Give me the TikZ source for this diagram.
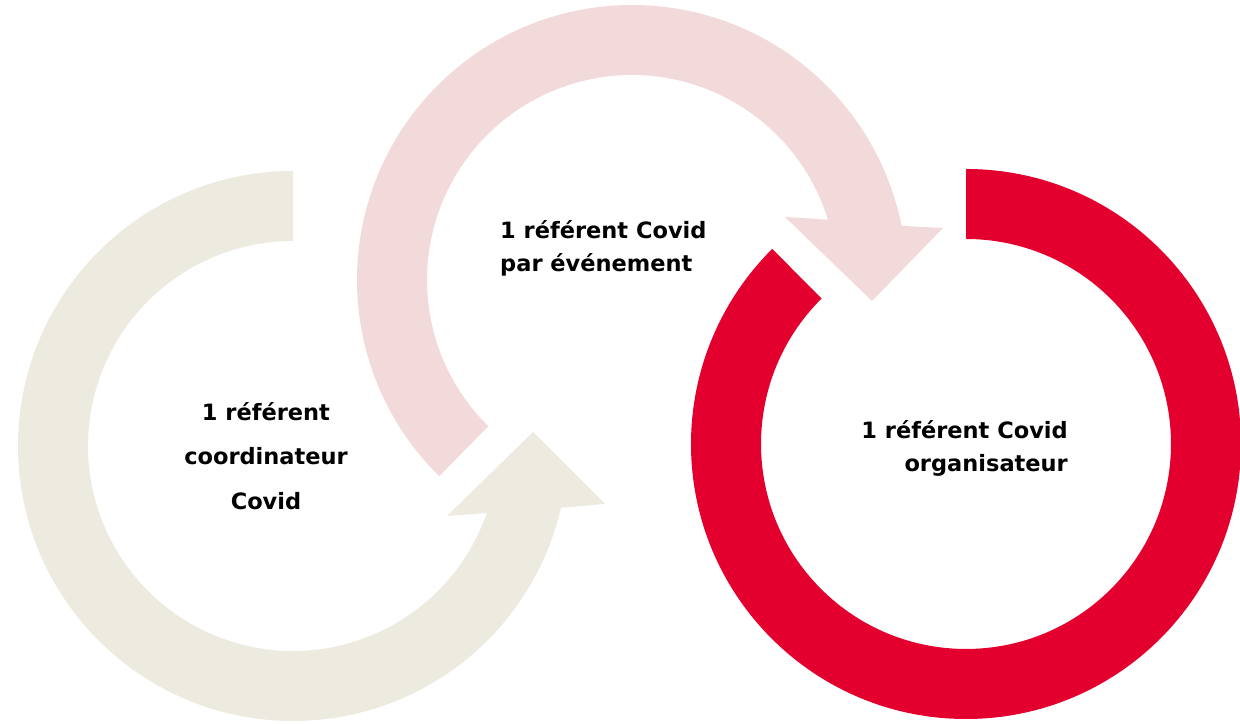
\documentclass[tikz,border=0pt]{standalone}
\usepackage{fontspec}
\setmainfont{DejaVu Sans}
\definecolor{beige}{RGB}{237,235,224}
\definecolor{rose}{RGB}{242,218,219}
\definecolor{rouge}{RGB}{228,0,46}

\begin{document}
\begin{tikzpicture}[x=1pt,y=1pt,
        texte/.style={font=\bfseries\fontsize{22.5}{33}\selectfont, inner sep=0pt}]
        \useasboundingbox (0,0) rectangle (1240,725);
        \fill[beige, shift={(293,279)}] (90:275) arc (90:347:275) -- (312,-58) -- (240,14) -- (154,-70) -- (340.9:205) arc (340.9:90:205) -- cycle;
        \fill[rose, shift={(632,445)}] (225.5:205) -- (225.5:275) arc (225.5:11.35:275) -- (311,52) -- (240,-21) -- (153,63) -- (17.1:205) arc (17.1:225.5:205) -- cycle;
        \fill[rouge, shift={(966,281)}] (90:275) arc (90:-225.2:275) -- (-225.2:205) arc (-225.2:90:205) -- cycle;
        \node[texte, align=center, font=\bfseries\fontsize{22.5}{44.5}\selectfont] (coordinateur) at (266,269) {1 référent\\coordinateur\\Covid};
        \node[texte, align=left, anchor=west] (evenement) at (500,477) {1 référent Covid\\par événement};
        \node[texte, align=right, anchor=east] (organisateur) at (1068,277) {1 référent Covid\\organisateur};
    \end{tikzpicture}
\end{document}
